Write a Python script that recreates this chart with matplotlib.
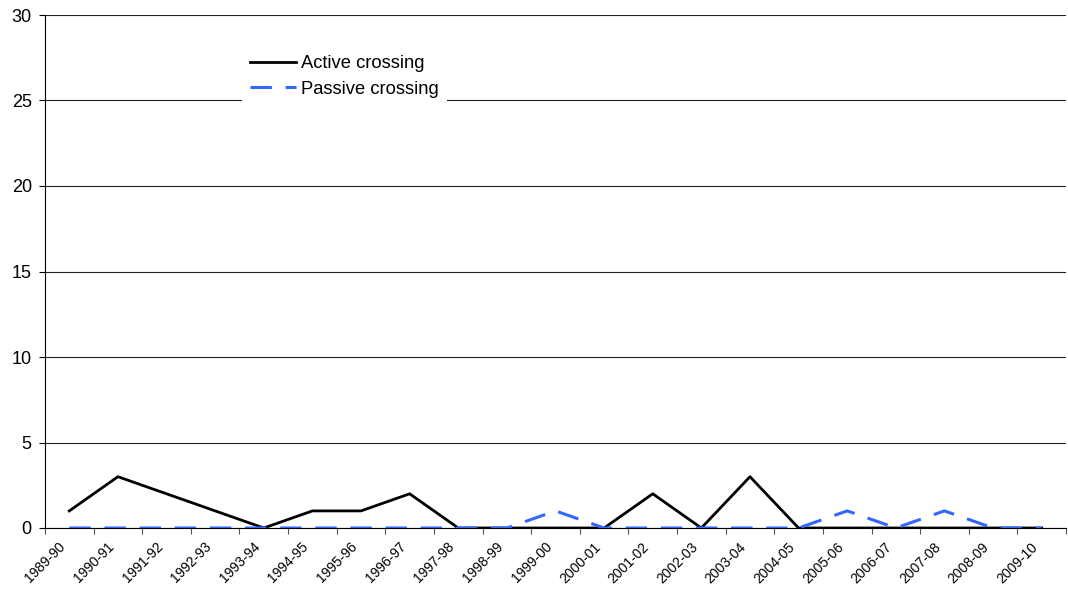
import matplotlib
matplotlib.use("Agg")
import matplotlib.pyplot as plt
import matplotlib.transforms as mtransforms
import numpy as np

seasons = ["1989-90", "1990-91", "1991-92", "1992-93", "1993-94", "1994-95", "1995-96",
           "1996-97", "1997-98", "1998-99", "1999-00", "2000-01", "2001-02", "2002-03",
           "2003-04", "2004-05", "2005-06", "2006-07", "2007-08", "2008-09", "2009-10"]
active = [1, 3, 2, 1, 0, 1, 1, 2, 0, 0, 0, 0, 2, 0, 3, 0, 0, 0, 0, 0, 0]
passive = [0, 0, 0, 0, 0, 0, 0, 0, 0, 0, 1, 0, 0, 0, 0, 0, 1, 0, 1, 0, 0]

plt.rcParams['font.family'] = ['Liberation Sans', 'DejaVu Sans']

fig = plt.figure(figsize=(10.68, 5.90), dpi=100)
W, H = 1068, 590
L, R, T, B = 45, 1066, 15, 528
ax = fig.add_axes([L / W, (H - B) / H, (R - L) / W, (B - T) / H])

x = np.arange(len(seasons))
ax.plot(x, active, color='black', lw=2.0, label='Active crossing', zorder=3)
ax.plot(x, passive, color='#3366FF', lw=2.2, dashes=(7, 4.5), label='Passive crossing', zorder=4)

ax.set_xlim(-0.5, len(seasons) - 0.5)
ax.set_ylim(0, 30)
ax.set_yticks(range(0, 31, 5))
ax.yaxis.grid(True, color='#222222', lw=0.8)
ax.set_axisbelow(True)

ax.set_xticks(x)
ax.set_xticklabels(seasons, rotation=45, ha='right', va='center', rotation_mode='anchor', fontsize=10)
ax.tick_params(axis='x', length=0, pad=12)
offset = mtransforms.ScaledTranslation(-6 / 100, 0, fig.dpi_scale_trans)
for lab in ax.get_xticklabels():
    lab.set_transform(lab.get_transform() + offset)
ax.set_xticks(np.arange(-0.5, len(seasons) - 0.4, 1), minor=True)
ax.tick_params(axis='x', which='minor', length=4, width=0.8, color='#555555')
ax.tick_params(axis='y', length=4.5, width=0.8, labelsize=13, pad=5)

for s in ['top', 'right']:
    ax.spines[s].set_visible(False)
ax.spines['left'].set_linewidth(0.8)
ax.spines['bottom'].set_linewidth(0.8)

leg = ax.legend(loc='upper left',
                bbox_to_anchor=((242 - L) / (R - L), 1 - (47 - T) / (B - T)),
                frameon=True, fontsize=13.2, handlelength=2.5, handletextpad=0.27,
                borderpad=0.45, borderaxespad=0, labelspacing=0.46, fancybox=False)
leg.get_frame().set_edgecolor('none')
leg.get_frame().set_facecolor('white')
leg.get_frame().set_alpha(1)

fig.savefig('out.png', dpi=100)
